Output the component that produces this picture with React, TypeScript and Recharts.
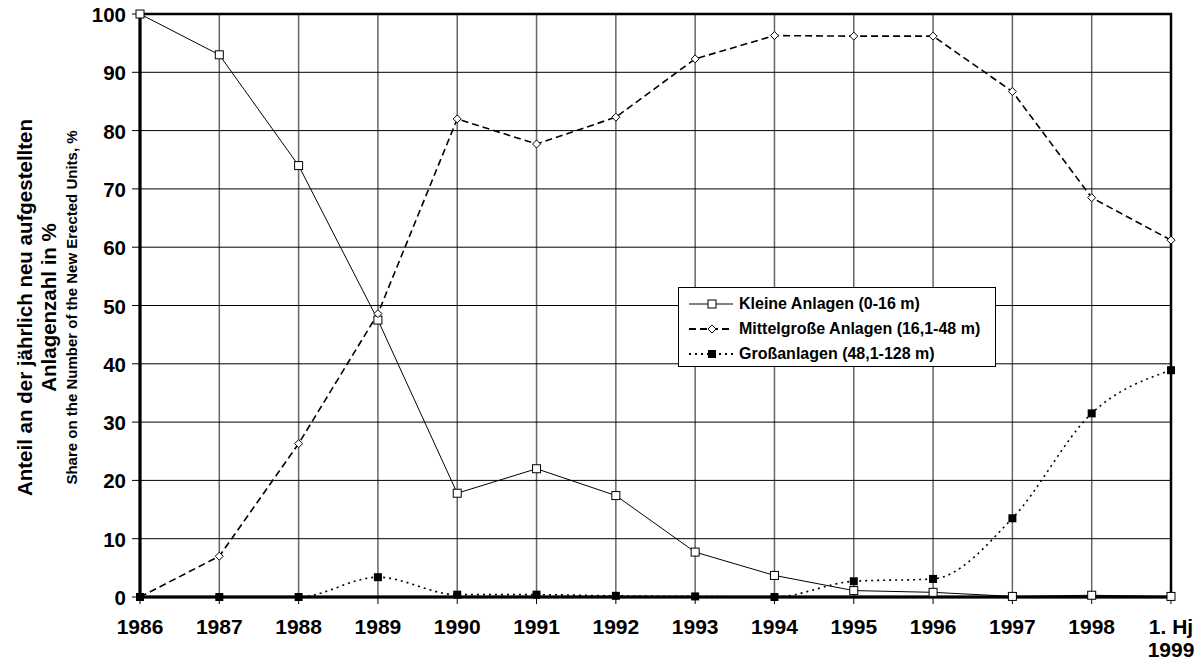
import { CartesianGrid, LineChart, Line, XAxis, YAxis, ReferenceArea, Label } from 'recharts'

const years = ['1986', '1987', '1988', '1989', '1990', '1991', '1992', '1993', '1994', '1995', '1996', '1997', '1998', '1. Hj 1999']
const kleine = [100, 93, 74, 47.5, 17.8, 22, 17.4, 7.7, 3.7, 1.1, 0.8, 0.1, 0.3, 0.1]
const mittel = [0, 7, 26.3, 48.6, 82, 77.7, 82.3, 92.3, 96.3, 96.2, 96.2, 86.7, 68.5, 61.2]
const gross = [0, 0, 0, 3.4, 0.4, 0.4, 0.2, 0.1, 0, 2.7, 3.1, 13.5, 31.5, 38.9]
const yTicks = [0, 10, 20, 30, 40, 50, 60, 70, 80, 90, 100]

const data = years.map((y, i) => ({ year: y, kleine: kleine[i], mittel: mittel[i], gross: gross[i] }))

const font = '"Liberation Sans", Arial, sans-serif'

const XTick = (props: { x?: number; y?: number; payload?: { value: string } }) => {
  const { x = 0, y = 0, payload } = props
  const parts = payload ? payload.value.replace('1. Hj ', '1. Hj\n').split('\n') : []
  return (
    <text x={x} y={y + 28} textAnchor="middle" fontFamily={font} fontWeight="bold" fontSize={21} fill="#000">
      {parts.map((p, i) => (
        <tspan key={i} x={x} dy={i === 0 ? 0 : 23}>
          {p}
        </tspan>
      ))}
    </text>
  )
}

const YTick = (props: { x?: number; y?: number; payload?: { value: number } }) => {
  const { x = 0, y = 0, payload } = props
  return (
    <text x={x - 4} y={y + 8} textAnchor="end" fontFamily={font} fontWeight="bold" fontSize={20.5} fill="#000">
      {payload?.value}
    </text>
  )
}

const OpenSquare = (props: { cx?: number; cy?: number }) => {
  const { cx, cy } = props
  if (cx == null || cy == null) return null
  return <rect x={cx - 4} y={cy - 4} width={8} height={8} fill="#fff" stroke="#000" strokeWidth={1} />
}
const OpenDiamond = (props: { cx?: number; cy?: number }) => {
  const { cx, cy } = props
  if (cx == null || cy == null) return null
  return <path d={`M${cx},${cy - 4}L${cx + 4},${cy}L${cx},${cy + 4}L${cx - 4},${cy}Z`} fill="#fff" stroke="#000" strokeWidth={1} />
}
const FilledSquare = (props: { cx?: number; cy?: number }) => {
  const { cx, cy } = props
  if (cx == null || cy == null) return null
  return <rect x={cx - 4} y={cy - 4} width={8} height={8} fill="#000" />
}

const legendItems = [
  { label: 'Kleine Anlagen (0-16 m)', dash: undefined, marker: 'sq' },
  { label: 'Mittelgroße Anlagen (16,1-48 m)', dash: '7 4', marker: 'di' },
  { label: 'Großanlagen (48,1-128 m)', dash: '2 4', marker: 'fs' },
]

const LegendBox = () => (
  <div
    style={{
      position: 'absolute',
      left: 670,
      top: 279,
      width: 318,
      height: 80,
      border: '1px solid #000',
      background: '#fff',
      fontFamily: font,
      fontWeight: 'bold',
      fontSize: 16,
      paddingTop: 3,
      boxSizing: 'border-box',
    }}
  >
    {legendItems.map((it) => (
      <div key={it.label} style={{ display: 'flex', alignItems: 'center', height: 25 }}>
        <svg width={54} height={12} style={{ marginLeft: 6 }}>
          <line x1={4} y1={6} x2={48} y2={6} stroke="#000" strokeWidth={it.dash ? 2 : 1} strokeDasharray={it.dash} />
          {it.marker === 'sq' && <rect x={23} y={2} width={8} height={8} fill="#fff" stroke="#000" />}
          {it.marker === 'di' && <path d="M27,2L31,6L27,10L23,6Z" fill="#fff" stroke="#000" />}
          {it.marker === 'fs' && <rect x={23} y={2} width={8} height={8} fill="#000" />}
        </svg>
        <span>{it.label}</span>
      </div>
    ))}
  </div>
)

const YTitle = (props: { viewBox?: { x: number; y: number; width: number; height: number } }) => {
  const vb = props.viewBox
  if (!vb) return null
  const cy = vb.y + vb.height / 2 + 2
  return (
    <g fontFamily={font} fontWeight="bold" fill="#000">
      <text transform={`translate(16, ${cy}) rotate(-90)`} textAnchor="middle" dominantBaseline="central" fontSize={20.5}>
        Anteil an der jährlich neu aufgestellten
      </text>
      <text transform={`translate(40, ${cy}) rotate(-90)`} textAnchor="middle" dominantBaseline="central" fontSize={20.5}>
        Anlagenzahl in %
      </text>
      <text transform={`translate(63, ${cy}) rotate(-90)`} textAnchor="middle" dominantBaseline="central" fontSize={15}>
        Share on the Number of the New Erected Units, %
      </text>
    </g>
  )
}

export default function App() {
  return (
    <div style={{ position: 'relative', width: 1188, height: 654, background: '#fff' }}>
      <LineChart
        width={1188}
        height={654}
        data={data}
        margin={{ top: 6, right: 25, left: 80, bottom: 15 }}
        style={{ overflow: 'visible' }}
      >
        <CartesianGrid horizontal={false} stroke="#666" strokeWidth={1.5} />
        <CartesianGrid vertical={false} stroke="#000" strokeWidth={1} />
        <XAxis
          dataKey="year"
          scale="point"
          padding={{ left: 0, right: 0 }}
          interval={0}
          height={50}
          tick={<XTick />}
          tickSize={7}
          tickLine={{ stroke: '#000', strokeWidth: 1 }}
          axisLine={{ stroke: '#000', strokeWidth: 3 }}
        />
        <YAxis
          domain={[0, 100]}
          ticks={yTicks}
          interval={0}
          width={52}
          tickSize={8}
          tick={<YTick />}
          tickLine={{ stroke: '#000', strokeWidth: 1 }}
          axisLine={{ stroke: '#000', strokeWidth: 3 }}
        >
          <Label content={<YTitle />} />
        </YAxis>
        <ReferenceArea x1="1986" x2="1. Hj 1999" y1={0} y2={100} fill="none" stroke="#000" strokeWidth={2.5} />
        <Line
          dataKey="kleine"
          type="linear"
          stroke="#000"
          strokeWidth={1}
          dot={<OpenSquare />}
          isAnimationActive={false}
        />
        <Line
          dataKey="mittel"
          type="linear"
          stroke="#000"
          strokeWidth={1.6}
          strokeDasharray="7 4"
          dot={<OpenDiamond />}
          isAnimationActive={false}
        />
        <Line
          dataKey="gross"
          type="monotone"
          stroke="#000"
          strokeWidth={1.6}
          strokeDasharray="2 4"
          dot={<FilledSquare />}
          isAnimationActive={false}
        />
      </LineChart>
      <LegendBox />
    </div>
  )
}
